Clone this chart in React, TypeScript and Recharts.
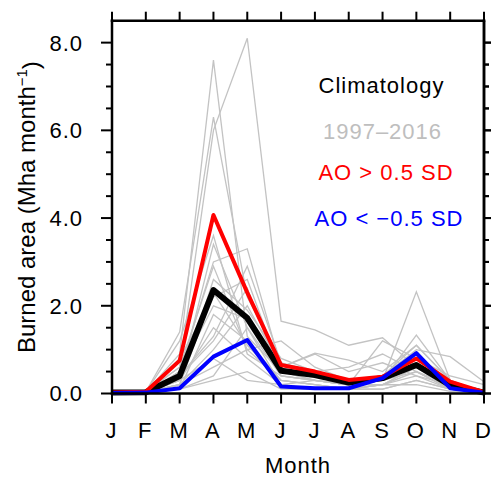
import React from 'react';
import { LineChart, Line, XAxis, YAxis, ReferenceLine } from 'recharts';

if (typeof document !== 'undefined') {
  document.documentElement.style.overflow = 'hidden';
  document.body.style.margin = '0';
  document.body.style.overflow = 'hidden';
}

const months = ['J', 'F', 'M', 'A', 'M', 'J', 'J', 'A', 'S', 'O', 'N', 'D'];
const monthIndex = [0, 1, 2, 3, 4, 5, 6, 7, 8, 9, 10, 11];
const yTicks = [0, 0.5, 1, 1.5, 2, 2.5, 3, 3.5, 4, 4.5, 5, 5.5, 6, 6.5, 7, 7.5, 8];
const yMajor = [0, 2, 4, 6, 8];
const yMax = 8.5;

const climatology = [0.02, 0.03, 0.4, 2.36, 1.72, 0.52, 0.42, 0.25, 0.35, 0.65, 0.19, 0.02];
const aoPositive = [0.02, 0.04, 0.75, 4.07, 2.3, 0.65, 0.5, 0.31, 0.38, 0.8, 0.27, 0.03];
const aoNegative = [0.01, 0.02, 0.12, 0.84, 1.22, 0.16, 0.12, 0.12, 0.35, 0.92, 0.12, 0.02];

const y1997 = [0.02, 0.03, 0.9, 7.6, 1.3, 0.5, 0.3, 0.2, 0.3, 0.5, 0.1, 0.02];
const y1998 = [0.02, 0.05, 0.6, 6.0, 8.1, 1.65, 1.45, 1.1, 1.27, 0.6, 0.2, 0.03];
const y1999 = [0.01, 0.04, 1.4, 6.3, 2.2, 0.7, 0.4, 0.2, 0.3, 0.7, 0.2, 0.02];
const y2000 = [0.02, 0.03, 0.3, 3.4, 1.5, 0.4, 0.3, 0.2, 0.3, 2.32, 0.3, 0.02];
const y2001 = [0.01, 0.02, 0.5, 3.0, 3.3, 0.6, 0.92, 0.76, 0.5, 1.1, 0.3, 0.02];
const y2002 = [0.02, 0.02, 0.2, 2.6, 1.9, 0.8, 0.5, 0.3, 0.4, 1.0, 0.84, 0.27];
const y2003 = [0.01, 0.03, 0.8, 2.2, 2.6, 0.5, 0.3, 0.2, 0.3, 1.33, 0.3, 0.02];
const y2004 = [0.02, 0.03, 0.1, 1.8, 1.2, 0.3, 0.2, 0.1, 0.2, 0.6, 0.1, 0.02];
const y2005 = [0.01, 0.02, 0.4, 1.2, 2.4, 0.4, 0.3, 0.2, 1.2, 0.8, 0.4, 0.2];
const y2006 = [0.02, 0.03, 0.2, 0.6, 1.0, 0.3, 0.2, 0.1, 0.2, 0.4, 0.1, 0.02];
const y2007 = [0.01, 0.02, 0.1, 0.4, 1.5, 0.2, 0.1, 0.1, 0.1, 0.3, 0.1, 0.01];
const y2008 = [0.02, 0.03, 0.3, 1.5, 0.8, 0.2, 0.3, 0.2, 0.2, 0.5, 0.1, 0.02];
const y2009 = [0.01, 0.02, 0.6, 2.9, 1.0, 1.2, 0.6, 0.3, 0.3, 0.9, 0.2, 0.02];
const y2010 = [0.02, 0.04, 0.2, 1.0, 2.0, 0.6, 0.9, 0.5, 0.7, 0.4, 0.2, 0.02];
const y2011 = [0.01, 0.02, 0.1, 0.3, 0.5, 0.1, 0.1, 0.1, 0.2, 0.2, 0.05, 0.01];
const y2012 = [0.02, 0.03, 0.5, 2.0, 1.7, 0.5, 0.4, 0.3, 0.4, 1.1, 0.3, 0.03];
const y2013 = [0.01, 0.03, 1.2, 3.6, 0.9, 0.4, 0.3, 0.2, 0.3, 0.7, 0.2, 0.02];
const y2014 = [0.02, 0.02, 0.3, 0.8, 0.3, 0.2, 0.1, 0.1, 0.1, 0.3, 0.1, 0.01];
const y2015 = [0.01, 0.03, 0.4, 1.3, 2.9, 0.7, 0.5, 0.6, 0.9, 0.5, 0.2, 0.02];
const y2016 = [0.02, 0.03, 0.2, 2.3, 1.1, 0.3, 0.2, 0.1, 0.2, 0.6, 0.1, 0.02];

const yearNames = ['y1997', 'y1998', 'y1999', 'y2000', 'y2001', 'y2002', 'y2003', 'y2004', 'y2005', 'y2006',
  'y2007', 'y2008', 'y2009', 'y2010', 'y2011', 'y2012', 'y2013', 'y2014', 'y2015', 'y2016'];
const yearSeries = [y1997, y1998, y1999, y2000, y2001, y2002, y2003, y2004, y2005, y2006,
  y2007, y2008, y2009, y2010, y2011, y2012, y2013, y2014, y2015, y2016];

const data = monthIndex.map((i) => {
  const row: Record<string, number> = { i, clim: climatology[i], pos: aoPositive[i], neg: aoNegative[i] };
  yearNames.forEach((n, k) => { row[n] = yearSeries[k][i]; });
  return row;
});

const FONT = '"Liberation Sans", Arial, Helvetica, sans-serif';
const axisStyle = { stroke: '#000', strokeWidth: 2.5, strokeLinecap: 'square' as const };

const LeftTick = (props: any) => {
  const { x, y, payload } = props;
  const major = yMajor.includes(payload.value);
  return (
    <g>
      <line x1={x - (major ? 11 : 6)} x2={x} y1={y} y2={y} stroke="#000" strokeWidth={2} />
      {major && (
        <text x={x - 29} y={y} dy="0.36em" textAnchor="end" fontFamily={FONT} fontSize={22}
          letterSpacing={1} fill="#000">{payload.value.toFixed(1)}</text>
      )}
    </g>
  );
};

const RightTick = (props: any) => {
  const { x, y, payload } = props;
  const major = yMajor.includes(payload.value);
  return <line x1={x} x2={x + (major ? 7 : 5)} y1={y} y2={y} stroke="#000" strokeWidth={2} />;
};

const RightFrameTicks = (props: any) => {
  const vb = props.viewBox || { x: 0, y: 0, width: 0, height: 0 };
  return (
    <g>
      {yTicks.map((v) => {
        const yy = vb.y + vb.height * (1 - v / yMax);
        const major = yMajor.includes(v);
        return <line key={v} x1={vb.x} x2={vb.x + (major ? 7 : 5)} y1={yy} y2={yy} stroke="#000" strokeWidth={2} />;
      })}
    </g>
  );
};

const BottomTick = (props: any) => {
  const { x, y, payload } = props;
  return (
    <g>
      <line x1={x} x2={x} y1={y} y2={y + 10} stroke="#000" strokeWidth={2} />
      <text x={x - 1} y={y + 44.5} textAnchor="middle" fontFamily={FONT} fontSize={22} fill="#000">
        {months[payload.value]}
      </text>
    </g>
  );
};

const TopTick = (props: any) => {
  const { x, y } = props;
  return <line x1={x} x2={x} y1={y} y2={y - 9} stroke="#000" strokeWidth={2} />;
};

const MonthLabel = (props: any) => {
  const vb = props.viewBox || { x: 0, y: 0, width: 0, height: 0 };
  return (
    <text x={vb.x + vb.width / 2} y={vb.y + 79} textAnchor="middle" fontFamily={FONT} fontSize={22}
      letterSpacing={1} fill="#000">Month</text>
  );
};

const YLabel = (props: any) => {
  const vb = props.viewBox || { x: 0, y: 0, width: 0, height: 0 };
  const cx = vb.x + 27;
  const cy = vb.y + vb.height / 2;
  return (
    <text x={cx} y={cy} textAnchor="middle" transform={`rotate(-90, ${cx}, ${cy})`} fontFamily={FONT}
      fontSize={24} fill="#000">
      Burned area (Mha month<tspan dy="-0.5em" fontSize={15}>−1</tspan><tspan dy="0.5em">)</tspan>
    </text>
  );
};

export default function App() {
  return (
    <div style={{ position: 'relative', width: 491, height: 479 }}>
      <LineChart width={491} height={479} data={data} margin={{ top: 19.7, right: 6, bottom: 0, left: 8 }}>
        <XAxis xAxisId="b" dataKey="i" type="number" domain={[0, 11]} ticks={monthIndex} interval={0}
          height={85.5} tickSize={0} tickMargin={0} tickLine={false} tick={BottomTick} axisLine={axisStyle}
          allowDecimals={false} label={(p: any) => <MonthLabel {...p} />} />
        <XAxis xAxisId="t" orientation="top" dataKey="i" type="number" domain={[0, 11]} ticks={monthIndex}
          interval={0} height={1} tickSize={0} tickMargin={0} tickLine={false} tick={TopTick} axisLine={axisStyle} />
        <YAxis yAxisId="l" type="number" domain={[0, yMax]} ticks={yTicks} interval={0} width={104}
          tickSize={0} tickMargin={0} tickLine={false} tick={LeftTick} axisLine={axisStyle}
          label={(p: any) => <YLabel {...p} />} />
        <YAxis yAxisId="r" orientation="right" type="number" domain={[0, yMax]} ticks={yTicks} interval={0}
          width={1} tickSize={0} tickMargin={0} tickLine={false} tick={RightTick} axisLine={axisStyle} />
        {yearNames.map((n) => (
          <Line key={n} xAxisId="b" yAxisId="l" dataKey={n} type="linear" stroke="#c3c3c3" strokeWidth={1.3}
            dot={false} activeDot={false} isAnimationActive={false} />
        ))}
        <Line xAxisId="b" yAxisId="r" dataKey="clim" type="linear" stroke="#000" strokeWidth={6}
          strokeLinejoin="round" dot={false} activeDot={false} isAnimationActive={false} />
        <Line xAxisId="b" yAxisId="l" dataKey="pos" type="linear" stroke="#ff0000" strokeWidth={4}
          strokeLinejoin="round" dot={false} activeDot={false} isAnimationActive={false} />
        <Line xAxisId="b" yAxisId="l" dataKey="neg" type="linear" stroke="#0000ff" strokeWidth={4}
          strokeLinejoin="round" dot={false} activeDot={false} isAnimationActive={false} />
        <ReferenceLine xAxisId="b" yAxisId="l" x={11} stroke="#000" strokeWidth={2.5} ifOverflow="visible"
          label={(p: any) => <RightFrameTicks {...p} />} />
      </LineChart>
      <svg width={491} height={479} style={{ position: 'absolute', left: 0, top: 0, pointerEvents: 'none' }}>
        <g fontFamily={FONT} fontSize={22} letterSpacing={1} textAnchor="middle">
          <text x={381.5} y={92.7} fill="#000">Climatology</text>
          <text x={382.5} y={139.3} fill="#bebebe">1997–2016</text>
          <text x={386} y={180} fill="#ff0000">AO &gt; 0.5 SD</text>
          <text x={389} y={226} fill="#0000ff">AO &lt; −0.5 SD</text>
        </g>
      </svg>
    </div>
  );
}
